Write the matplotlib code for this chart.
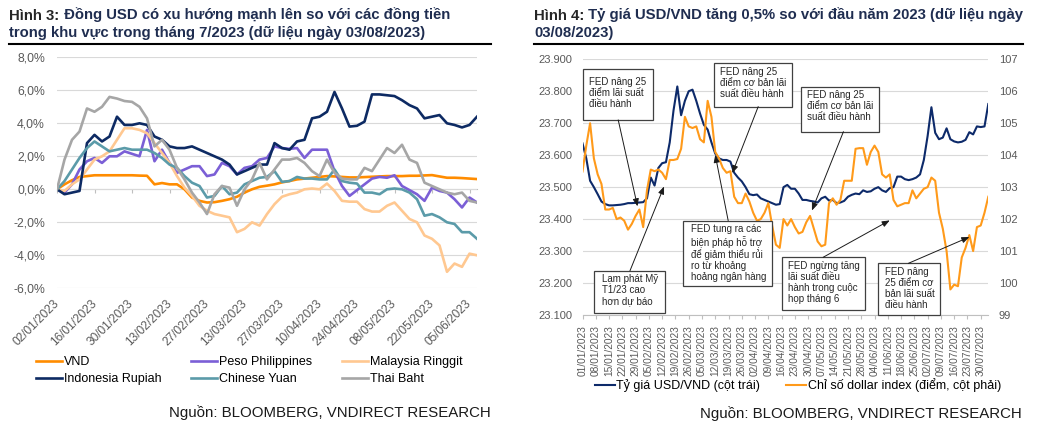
import matplotlib
matplotlib.use('Agg')
import matplotlib.pyplot as plt
import matplotlib.dates as mdates
from matplotlib.lines import Line2D
from matplotlib.patches import Rectangle
import numpy as np
import pandas as pd

plt.rcParams['font.family'] = ['Liberation Sans', 'DejaVu Sans']

# ---------------- Hình 3: % thay đổi so với 02/01/2023 (mỗi 2 phiên)
vnd = [0, 0.3, 0.55, 0.75, 0.8, 0.85, 0.85, 0.85, 0.85, 0.85, 0.85, 0.83, 0.82, 0.3, 0.38,
       0.3, 0.3, 0.0, -0.5, -0.7, -0.8, -0.78, -0.7, -0.6, -0.45, -0.2, 0.0, 0.15, 0.22,
       0.3, 0.42, 0.5, 0.6, 0.65, 0.7, 0.75, 0.8, 0.78, 0.75, 0.72, 0.72, 0.74, 0.76, 0.78,
       0.8, 0.8, 0.8, 0.82, 0.82, 0.84, 0.86, 0.78, 0.7, 0.7, 0.68, 0.65, 0.62]
peso = [0, -0.2, 0.3, 1.2, 1.7, 1.9, 1.6, 2.0, 2.0, 2.3, 2.15, 2.0, 3.6, 1.7, 2.4,
        1.6, 1.0, 1.2, 1.4, 1.4, 0.8, 0.9, 1.6, 1.4, 0.9, 1.3, 1.4, 1.8, 1.9,
        2.6, 2.5, 2.45, 2.5, 1.9, 2.4, 2.4, 2.4, 1.1, 0.2, -0.4, -0.05, 0.3, 0.65, 0.75,
        0.7, 0.85, 0.2, -0.05, -0.3, -0.7, 0.1, -0.1, -0.2, -0.6, -1.1, -0.5, -0.8]
myr = [0, -0.1, 0.3, 0.6, 1.2, 1.8, 2.0, 2.3, 3.0, 3.7, 3.7, 3.6, 3.4, 2.8, 2.2,
       1.6, 0.8, 0.1, -0.4, -1.0, -1.3, -1.5, -1.6, -1.7, -2.6, -2.4, -2.0, -2.2, -1.5,
       -0.9, -0.45, -0.3, -0.2, 0.0, 0.05, 0.0, 0.35, -0.1, -0.7, -0.75, -0.75, -1.2, -1.35, -1.35,
       -1.0, -0.8, -1.3, -1.8, -2.0, -2.8, -3.0, -3.4, -5.0, -4.5, -4.7, -3.9, -4.0]
idr = [0, -0.3, -0.2, -0.1, 2.8, 3.3, 2.9, 3.2, 4.4, 3.9, 3.9, 4.0, 3.9, 3.2, 3.0,
       2.6, 2.5, 2.5, 2.6, 2.4, 2.2, 2.0, 1.8, 1.5, 0.9, 1.1, 1.3, 1.5, 1.5,
       2.8, 2.5, 2.4, 2.9, 3.0, 4.3, 4.4, 4.7, 5.9, 4.9, 3.8, 3.85, 4.1, 5.75, 5.75,
       5.7, 5.65, 5.4, 5.1, 4.9, 4.3, 4.4, 4.5, 4.0, 3.9, 3.75, 3.9, 4.4]
cny = [0, 0.5, 1.2, 1.9, 2.5, 2.9, 2.6, 2.3, 2.4, 2.5, 2.4, 2.4, 2.4, 2.2, 1.9,
       1.5, 1.3, 0.8, 0.4, 0.2, -0.5, -0.4, 0.2, -0.3, -0.2, 0.3, 0.5, 0.7, 0.75,
       1.1, 0.45, 0.5, 0.75, 0.65, 0.65, 0.6, 0.6, 1.2, 0.5, 0.4, 0.35, -0.2, -0.2, -0.3,
       0.0, 0.05, 0.0, -0.2, -0.6, -1.6, -1.5, -1.7, -2.0, -2.1, -2.6, -2.6, -3.0]
thb = [0, 1.8, 3.0, 3.5, 4.9, 4.7, 5.0, 5.6, 5.5, 5.35, 5.3, 5.0, 4.3, 2.6, 3.0,
       2.4, 1.3, 0.6, -0.2, -0.8, -1.5, -0.3, 0.2, 0.1, -1.0, 0.0, 0.6, 1.6, 0.6,
       1.2, 1.8, 1.8, 1.9, 1.6, 1.1, 0.8, 1.8, 1.0, 0.65, 0.6, 0.6, 1.3, 1.1, 1.8,
       2.5, 2.2, 2.7, 1.8, 1.6, 0.4, 0.2, 0.0, -0.2, -0.3, -0.2, -0.7, -0.8]
names3 = ['VND', 'Peso Philippines', 'Malaysia Ringgit',
          'Indonesia Rupiah', 'Chinese Yuan', 'Thai Baht']
colors3 = ['#FF8C00', '#7B5FD6', '#FFC891', '#0D2A63', '#5B9BA9', '#A6A6A6']
step3 = 2
tick_labels3 = pd.date_range('2023-01-02', periods=12, freq='14D').strftime('%d/%m/%Y')

# ---------------- Hình 4: tỷ giá USD/VND và DXY (mỗi 2 ngày)
dates4 = pd.date_range('2023-01-01', '2023-08-03', freq='2D')
usdvnd = [23637, 23590, 23520, 23500, 23478, 23455, 23447, 23443, 23443, 23444,
          23445, 23447, 23450, 23450, 23451, 23452, 23453, 23465, 23530, 23505,
          23560, 23575, 23578, 23640, 23740, 23815, 23725, 23770, 23800, 23805,
          23770, 23730, 23695, 23680, 23640, 23605, 23590, 23585, 23585, 23580,
          23545, 23530, 23518, 23500, 23478, 23475, 23477, 23465, 23460, 23455,
          23450, 23445, 23447, 23500, 23507, 23495, 23495, 23480, 23460, 23460,
          23457, 23455, 23452, 23465, 23470, 23458, 23460, 23450, 23452, 23457,
          23470, 23476, 23480, 23478, 23490, 23485, 23487, 23495, 23500, 23490,
          23485, 23497, 23500, 23533, 23533, 23525, 23522, 23525, 23530, 23540,
          23585, 23660, 23750, 23670, 23650, 23655, 23684, 23650, 23643, 23640,
          23642, 23648, 23672, 23665, 23690, 23688, 23690, 23760]
dxy = [103.49, 104.3, 105.0, 103.9, 103.4, 103.1, 102.3, 102.3, 102.35, 102.0,
       102.05, 101.95, 101.67, 101.85, 102.1, 102.3, 101.75, 102.9, 103.55, 103.5,
       103.55, 103.45, 103.25, 103.85, 103.85, 103.88, 104.2, 105.2, 104.9, 104.85,
       104.9, 104.5, 104.4, 105.7, 105.2, 104.1, 103.9, 103.6, 103.45, 103.5,
       102.7, 102.5, 102.5, 102.8, 102.55, 102.2, 101.95, 102.0, 102.2, 102.5,
       101.8, 101.2, 101.1, 102.0, 101.8, 102.0, 101.75, 101.55, 101.6, 101.9,
       102.1, 101.7, 101.3, 101.15, 101.2, 102.5, 102.65, 102.45, 102.6, 103.2,
       103.2, 103.2, 104.2, 104.22, 104.22, 103.7, 104.1, 104.3, 104.1, 103.4,
       103.3, 103.4, 102.6, 102.4, 102.45, 102.5, 102.5, 102.9, 102.65, 102.8,
       102.95, 103.0, 103.3, 103.2, 102.2, 101.7, 101.0, 99.8, 99.95, 99.9,
       100.8, 101.1, 101.5, 101.0, 101.75, 101.8, 102.2, 102.7]

notes_text = ['FED nâng 25\nđiểm lãi suất\nđiều hành',
              'FED nâng 25\nđiểm cơ bản lãi\nsuất điều hành',
              'FED nâng 25\nđiểm cơ bản lãi\nsuất điều hành',
              'Lạm phát Mỹ\nT1/23 cao\nhơn dự báo',
              'FED tung ra các\nbiện pháp hỗ trợ\nđể giảm thiểu rủi\nro từ khoảng\nhoảng ngân hàng',
              'FED ngừng tăng\nlãi suất điều\nhành trong cuộc\nhọp tháng 6',
              'FED nâng\n25 điểm cơ\nbản lãi suất\nđiều hành']
notes_date = ['2023-01-30', '2023-03-21', '2023-05-02', '2023-02-13',
              '2023-03-12', '2023-06-12', '2023-07-24']
notes_value = [23440, 23544, 23427, 23502, 23601, 23396, 23344]

GRID = '#d9d9d9'
TICK = '#595959'
W, H = 1038, 428
fig = plt.figure(figsize=(W / 100, H / 100), dpi=100)


def fx(px):
    return px / W


def fy(py):
    return 1 - py / H


# ---------- left chart
ax = fig.add_axes([fx(57), fy(288.3), fx(420), 231 / H])
x3 = np.arange(len(vnd)) * step3
series3 = [vnd, peso, myr, idr, cny, thb]
lines3 = []
for vals, name, col in zip(series3, names3, colors3):
    ln, = ax.plot(x3, vals, color=col, lw=1.9, label=name)
    lines3.append(ln)
ax.set_xlim(0, x3[-1])
ax.set_ylim(-6, 8)
ax.set_yticks(np.arange(-6, 8.1, 2))
ax.set_yticklabels([f'{v:.1f}%'.replace('.', ',') for v in np.arange(-6, 8.1, 2)])
ax.grid(axis='y', color=GRID, lw=0.8)
ax.set_axisbelow(True)
for s in ax.spines.values():
    s.set_visible(False)
ticks3 = np.arange(len(tick_labels3)) * 10
ax.set_xticks(ticks3)
ax.set_xticklabels(tick_labels3)
ax.tick_params(axis='x', length=0, pad=10, labelsize=8.6, labelcolor=TICK)
ax.tick_params(axis='y', length=0, pad=8.6, labelsize=8.8, labelcolor=TICK)
plt.setp(ax.get_xticklabels(), rotation=45, ha='right', va='center',
         rotation_mode='anchor')
# category axis crosses at 0
sec = ax.secondary_xaxis((0 - (-6)) / (8 - (-6)))
sec.set_xticks(ticks3)
sec.tick_params(length=3, color='#bfbfbf', labelbottom=False)
sec.spines['bottom'].set_color('#bfbfbf')

order = [0, 3, 1, 4, 2, 5]
fig.legend([lines3[i] for i in order], [names3[i] for i in order], ncol=3,
           loc='upper left', bbox_to_anchor=(fx(36), fy(356)), frameon=False,
           fontsize=9, handlelength=2.1, handletextpad=0.15, columnspacing=2.35,
           labelspacing=0.4, borderpad=0, borderaxespad=0)

# ---------- right chart
axr = fig.add_axes([fx(582.5), fy(315), fx(405.8), 255.7 / H])
axr2 = axr.twinx()
axr.plot(dates4, usdvnd, color='#0D2A6A', lw=1.5, label='Tỷ giá USD/VND (cột trái)')
axr2.plot(dates4, dxy, color='#FF9A1A', lw=1.5, label='Chỉ số dollar index (điểm, cột phải)')
axr.set_xlim(dates4[0], dates4[-1])
axr.set_ylim(23100, 23900)
axr2.set_ylim(99, 107)
axr.set_yticks(np.arange(23100, 23901, 100))
axr.set_yticklabels([f'{v:,.0f}'.replace(',', '.') for v in np.arange(23100, 23901, 100)])
axr2.set_yticks(np.arange(99, 108, 1))
axr.grid(axis='y', color=GRID, lw=0.8)
axr.set_axisbelow(True)
for a in (axr, axr2):
    for s in a.spines.values():
        s.set_visible(False)
axr.spines['bottom'].set_visible(True)
axr.spines['bottom'].set_color('#bfbfbf')
weeks = pd.date_range('2023-01-01', '2023-07-30', freq='7D')
axr.set_xticks(weeks)
axr.set_xticklabels(weeks.strftime('%d/%m/%Y'), rotation=90)
axr.tick_params(axis='x', length=3, color='#bfbfbf', pad=4, labelsize=7.3, labelcolor=TICK)
axr.tick_params(axis='y', length=0, pad=7, labelsize=8, labelcolor=TICK)
axr2.tick_params(axis='y', length=0, pad=7.7, labelsize=8, labelcolor=TICK)

h1, l1 = axr.get_legend_handles_labels()
h2, l2 = axr2.get_legend_handles_labels()
fig.legend(h1 + h2, l1 + l2, ncol=2, loc='upper left',
           bbox_to_anchor=(fx(595), fy(378.5)), frameon=False, fontsize=9,
           handlelength=1.6, handletextpad=0.1, columnspacing=2.1,
           borderpad=0, borderaxespad=0)

# annotation boxes (axes fraction): x0, x1, y0, y1, text x, text top, tail x, tail y
boxes = [(0.002, 0.173, 0.763, 0.961, 0.0168, 0.93, 0.088, 0.763),
         (0.325, 0.5155, 0.815, 0.987, 0.339, 0.968, 0.433, 0.815),
         (0.538, 0.731, 0.717, 0.8905, 0.5525, 0.878, 0.643, 0.717),
         (0.0283, 0.204, 0.0066, 0.173, 0.0473, 0.16, 0.117, 0.173),
         (0.248, 0.466, 0.113, 0.369, 0.2666, 0.354, 0.359, 0.369),
         (0.4924, 0.696, 0.0196, 0.2257, 0.507, 0.212, 0.593, 0.2257),
         (0.729, 0.881, 0.0, 0.202, 0.745, 0.189, 0.803, 0.202)]
for txt, d, v, b in zip(notes_text, notes_date, notes_value, boxes):
    x0, x1, y0, y1, tx, ty, ax0, ay0 = b
    axr2.add_patch(Rectangle((x0, y0), x1 - x0, y1 - y0, transform=axr2.transAxes,
                             facecolor='white', edgecolor='#404040', lw=0.9,
                             zorder=5, clip_on=False))
    axr2.text(tx, ty, txt, transform=axr2.transAxes, ha='left', va='top',
              fontsize=7, color='#262626', linespacing=1.12, zorder=6)
    axr2.annotate('', xy=(mdates.date2num(pd.Timestamp(d)), v), xycoords=axr.transData,
                  xytext=(ax0, ay0), textcoords=axr2.transAxes,
                  arrowprops=dict(arrowstyle='-|>,head_length=0.45,head_width=0.18',
                                  color='#1a1a1a', lw=0.7, shrinkA=0, shrinkB=0),
                  zorder=6)

# ---------- titles, rules, sources
TITLE_DARK = '#262626'
TITLE_BLUE = '#1F2D50'
TSIZE = 10.75


def title(x, y, head, rest):
    t = fig.text(fx(x), fy(y), head, fontsize=TSIZE, weight='bold', color=TITLE_DARK,
                 va='baseline')
    fig.canvas.draw()
    bb = t.get_window_extent()
    fig.text(bb.x1 / W, fy(y), ' ' + rest, fontsize=TSIZE, weight='bold',
             color=TITLE_BLUE, va='baseline')


title(9.3, 19.5, 'Hình 3:', 'Đồng USD có xu hướng mạnh lên so với các đồng tiền')
fig.text(fx(9.3), fy(37), 'trong khu vực trong tháng 7/2023 (dữ liệu ngày 03/08/2023)',
         fontsize=TSIZE, weight='bold', color=TITLE_BLUE, va='baseline')
title(534, 19.5, 'Hình 4:', 'Tỷ giá USD/VND tăng 0,5% so với đầu năm 2023 (dữ liệu ngày')
fig.text(fx(534), fy(37), '03/08/2023)', fontsize=TSIZE, weight='bold',
         color=TITLE_BLUE, va='baseline')

fig.add_artist(Line2D([fx(9.3), fx(490.7)], [fy(43.5)] * 2, color='black', lw=1.5))
fig.add_artist(Line2D([fx(534), fx(1022.7)], [fy(43.5)] * 2, color='black', lw=1.5))

fig.text(fx(490.5), fy(412.5), 'Nguồn: BLOOMBERG, VNDIRECT RESEARCH', fontsize=10.8,
         color='#1a1a1a', ha='right', va='center')
fig.text(fx(1022), fy(413.3), 'Nguồn: BLOOMBERG, VNDIRECT RESEARCH', fontsize=10.8,
         color='#1a1a1a', ha='right', va='center')

fig.savefig('out.png', dpi=100, facecolor='white')
